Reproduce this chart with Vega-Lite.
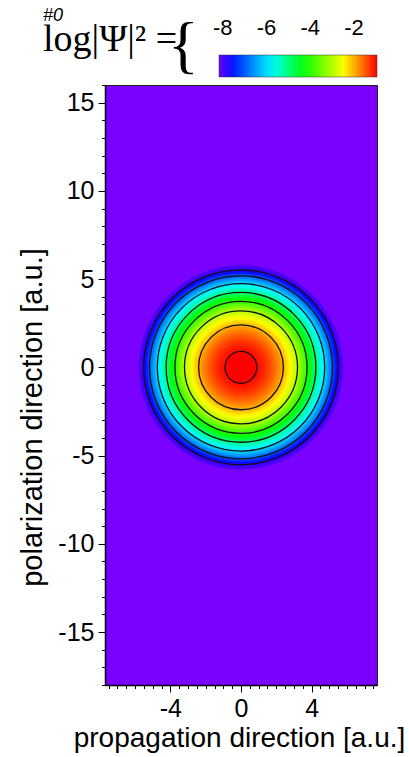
{
  "$schema": "https://vega.github.io/schema/vega-lite/v6.json",
  "width": 272,
  "height": 600,
  "autosize": {"type": "none"},
  "padding": {"left": 105, "top": 85, "right": 32, "bottom": 72},
  "background": "white",
  "config": {
    "font": "Liberation Sans",
    "view": {"fill": "#7a00ff", "stroke": "#222", "strokeWidth": 1},
    "axis": {"grid": false, "labelFontSize": 25, "titleFontSize": 29, "titleFontWeight": "normal", "labelColor": "black", "titleColor": "black", "tickColor": "black", "domainColor": "black", "tickSize": 7, "labelPadding": 4, "labelFont": "Liberation Sans", "titleFont": "Liberation Sans"}
  },
  "title": {
    "text": "#0",
    "subtitle": "log|Ψ|² =",
    "anchor": "start",
    "frame": "group",
    "dx": -62,
    "offset": -4,
    "font": "Liberation Sans",
    "fontSize": 18,
    "fontStyle": "italic",
    "fontWeight": "normal",
    "color": "black",
    "subtitleFont": "Liberation Serif",
    "subtitleFontSize": 38,
    "subtitleColor": "black",
    "subtitlePadding": -4
  },
  "datasets": {
    "disks": [
      {"r": 5.78, "v": -7.98}, {"r": 5.70, "v": -7.96}, {"r": 5.60, "v": -7.93}, {"r": 5.50, "v": -7.79},
      {"r": 5.40, "v": -7.49}, {"r": 5.30, "v": -7.20}, {"r": 5.20, "v": -6.93}, {"r": 5.10, "v": -6.70},
      {"r": 5.00, "v": -6.47}, {"r": 4.90, "v": -6.24}, {"r": 4.80, "v": -6.02}, {"r": 4.70, "v": -5.81},
      {"r": 4.60, "v": -5.61}, {"r": 4.50, "v": -5.41}, {"r": 4.40, "v": -5.21}, {"r": 4.30, "v": -5.02},
      {"r": 4.20, "v": -4.81}, {"r": 4.10, "v": -4.61}, {"r": 4.00, "v": -4.40}, {"r": 3.90, "v": -4.21},
      {"r": 3.80, "v": -4.02}, {"r": 3.70, "v": -3.82}, {"r": 3.60, "v": -3.63}, {"r": 3.50, "v": -3.44},
      {"r": 3.40, "v": -3.26}, {"r": 3.30, "v": -3.09}, {"r": 3.20, "v": -2.93}, {"r": 3.10, "v": -2.79},
      {"r": 3.00, "v": -2.66}, {"r": 2.90, "v": -2.53}, {"r": 2.80, "v": -2.40}, {"r": 2.70, "v": -2.28},
      {"r": 2.60, "v": -2.17}, {"r": 2.50, "v": -2.05}, {"r": 2.40, "v": -1.95}, {"r": 2.30, "v": -1.86},
      {"r": 2.20, "v": -1.77}, {"r": 2.10, "v": -1.69}, {"r": 2.00, "v": -1.60}, {"r": 1.90, "v": -1.53},
      {"r": 1.80, "v": -1.46}, {"r": 1.70, "v": -1.39}, {"r": 1.60, "v": -1.32}, {"r": 1.50, "v": -1.26},
      {"r": 1.40, "v": -1.20}, {"r": 1.30, "v": -1.15}, {"r": 1.20, "v": -1.10}, {"r": 1.10, "v": -1.06},
      {"r": 1.00, "v": -1.02}, {"r": 0.90, "v": -0.98}, {"r": 0.80, "v": -0.95}, {"r": 0.70, "v": -0.92},
      {"r": 0.60, "v": -0.90}, {"r": 0.50, "v": -0.88}, {"r": 0.40, "v": -0.86}, {"r": 0.30, "v": -0.85},
      {"r": 0.20, "v": -0.84}, {"r": 0.10, "v": -0.84}
    ],
    "contours": [
      {"r": 0.9, "level": -1}, {"r": 2.4, "level": -2}, {"r": 3.2, "level": -3}, {"r": 3.74, "level": -4},
      {"r": 4.24, "level": -5}, {"r": 4.74, "level": -6}, {"r": 5.18, "level": -7}, {"r": 5.52, "level": -8}
    ]
  },
  "layer": [
    {
      "data": {"name": "disks"},
      "mark": {"type": "arc", "theta": 0, "theta2": 6.2832},
      "encoding": {
        "x": {"datum": 0, "type": "quantitative",
          "scale": {"domain": [-7.7, 7.7], "nice": false, "zero": false},
          "axis": {"values": [-4, 0, 4], "labelExpr": "'' + datum.value", "title": "propagation direction [a.u.]", "titleFontSize": 28, "titleX": 134, "titleY": 61, "titleBaseline": "alphabetic", "domainWidth": 1.5}},
        "y": {"datum": 0, "type": "quantitative",
          "scale": {"domain": [-18, 16], "nice": false, "zero": false},
          "axis": {"values": [-15, -10, -5, 0, 5, 10, 15], "labelExpr": "'' + datum.value", "title": "polarization direction [a.u.]", "titleX": -73, "titleY": 332, "titleBaseline": "middle", "domainWidth": 1.5}},
        "radius": {"field": "r", "type": "quantitative", "stack": null,
          "scale": {"type": "linear", "domain": [0, 7.7], "range": [0, 136], "zero": true, "nice": false}},
        "color": {"field": "v", "type": "quantitative",
          "scale": {"domain": [-8.17, -7.7, -5.75, -4.3, -2.46, -0.95], "range": ["#7a00ff", "#0000ff", "#00ffff", "#00ff00", "#ffff00", "#ff0000"], "interpolate": "rgb", "clamp": true},
          "legend": {"orient": "none", "legendX": 63, "legendY": -30, "direction": "horizontal", "gradientLength": 158, "gradientThickness": 22,
            "title": "{", "titleOrient": "left", "titleFont": "Liberation Serif", "titleFontSize": 64, "titleFontWeight": "normal", "titleColor": "black", "titleBaseline": "alphabetic", "titlePadding": 20, "titleLimit": 200,
            "values": [-8, -6, -4, -2], "labelExpr": "'' + datum.value", "labelOffset": -59, "labelBaseline": "top", "labelFontSize": 22, "labelColor": "black", "labelFont": "Liberation Sans", "gradientStrokeColor": "#333", "gradientStrokeWidth": 0.5, "padding": 0}}
      }
    },
    {
      "data": {"name": "contours"},
      "mark": {"type": "arc", "theta": 0, "theta2": 6.2832, "filled": false, "stroke": "#111", "strokeWidth": 1.3},
      "encoding": {
        "x": {"datum": 0, "type": "quantitative",
          "axis": {"orient": "bottom", "values": [-7.5, -7, -6.5, -6, -5.5, -5, -4.5, -3.5, -3, -2.5, -2, -1.5, -1, -0.5, 0.5, 1, 1.5, 2, 2.5, 3, 3.5, 4.5, 5, 5.5, 6, 6.5, 7, 7.5], "labels": false, "title": null, "domain": false, "tickSize": 3.5}},
        "y": {"datum": 0, "type": "quantitative",
          "axis": {"orient": "left", "values": [-18, -17, -16, -14, -13, -12, -11, -9, -8, -7, -6, -4, -3, -2, -1, 1, 2, 3, 4, 6, 7, 8, 9, 11, 12, 13, 14, 16], "labels": false, "title": null, "domain": false, "tickSize": 3.5}},
        "radius": {"field": "r", "type": "quantitative", "stack": null}
      }
    }
  ],
  "resolve": {"axis": {"x": "independent", "y": "independent"}}
}
